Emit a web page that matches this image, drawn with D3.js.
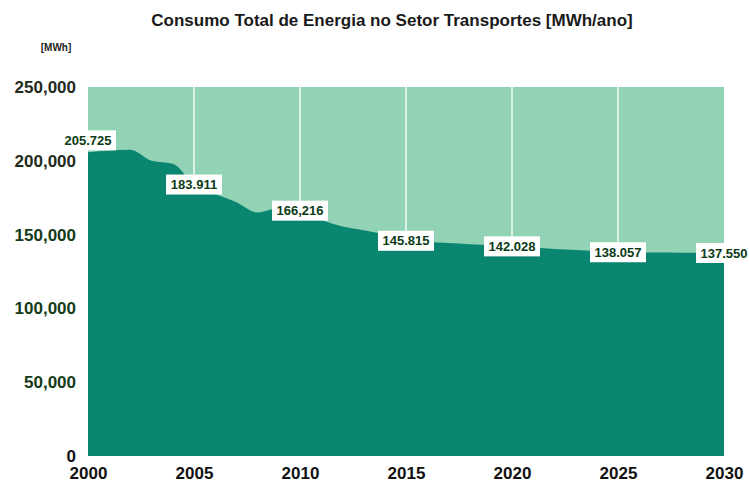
<!DOCTYPE html>
<html>
<head>
<meta charset="utf-8">
<script src="https://cdn.jsdelivr.net/npm/d3@7"></script>
<style>
  html, body { margin: 0; padding: 0; background: #fff; }
  svg { display: block; font-family: "Liberation Sans", Arial, sans-serif; }
</style>
</head>
<body>
<div id="chart"></div>
<script>
// Values
const years = [2000, 2001, 2002, 2003, 2004, 2005, 2006, 2007, 2008, 2009,
  2010, 2011, 2012, 2013, 2014, 2015, 2016, 2017, 2018, 2019,
  2020, 2021, 2022, 2023, 2024, 2025, 2026, 2027, 2028, 2029, 2030];
const consumo = [205725, 207000, 207500, 200000, 198000, 183911, 177500, 172000, 165000, 168000,
  166216, 160000, 155500, 153000, 150000, 145815, 145000, 144300, 143500, 142800,
  142028, 141200, 140300, 139500, 138700, 138057, 137900, 137800, 137700, 137600, 137550];
const labelYears = [2000, 2005, 2010, 2015, 2020, 2025, 2030];
const labelTexts = ['205.725', '183.911', '166,216', '145.815', '142.028', '138.057', '137.550'];
const yTicks = [0, 50000, 100000, 150000, 200000, 250000];
const xTicks = [2000, 2005, 2010, 2015, 2020, 2025, 2030];
const gridYears = [2005, 2010, 2015, 2020, 2025];

const width = 749, height = 492;
const svg = d3.select('#chart').append('svg')
  .attr('width', width)
  .attr('height', height);

const x = d3.scaleLinear().domain([2000, 2030]).range([88, 724]);
const y = d3.scaleLinear().domain([0, 250000]).range([456, 87]);

const data = years.map((yr, i) => ({ year: yr, value: consumo[i] }));

// Title
svg.append('text')
  .attr('x', 392)
  .attr('y', 26)
  .attr('text-anchor', 'middle')
  .attr('font-size', 17)
  .attr('font-weight', 'bold')
  .attr('fill', '#1a1a1a')
  .text('Consumo Total de Energia no Setor Transportes [MWh/ano]');

svg.append('text')
  .attr('x', 56)
  .attr('y', 51)
  .attr('text-anchor', 'middle')
  .attr('font-size', 10)
  .attr('font-weight', 'bold')
  .attr('fill', '#222')
  .text('[MWh]');

// Light background area
svg.append('rect')
  .attr('x', x(2000))
  .attr('y', y(250000))
  .attr('width', x(2030) - x(2000))
  .attr('height', y(0) - y(250000))
  .attr('fill', '#93d3b5');

// White vertical gridlines
svg.append('g')
  .selectAll('line')
  .data(gridYears)
  .join('line')
  .attr('x1', d => x(d))
  .attr('x2', d => x(d))
  .attr('y1', y(250000))
  .attr('y2', y(0))
  .attr('stroke', '#f2fbf6')
  .attr('stroke-width', 1.5);

// Dark area
const area = d3.area()
  .x(d => x(d.year))
  .y0(y(0))
  .y1(d => y(d.value))
  .curve(d3.curveMonotoneX);

svg.append('path')
  .datum(data)
  .attr('d', area)
  .attr('fill', '#0a8670');

// Y axis labels
const yAxis = svg.append('g')
  .attr('transform', 'translate(76,0)')
  .call(d3.axisLeft(y).tickValues(yTicks).tickSize(0).tickPadding(0)
    .tickFormat(d3.format(',')));
yAxis.select('.domain').remove();
yAxis.selectAll('text')
  .attr('font-size', 17)
  .attr('font-weight', 'bold')
  .attr('font-family', '"Liberation Sans", Arial, sans-serif')
  .attr('fill', d => d >= 200000 ? '#1f2a20' : d === 0 ? '#111' : '#143a18');

// X axis labels
const xAxis = svg.append('g')
  .attr('transform', `translate(0,${y(0) + 11})`)
  .call(d3.axisBottom(x).tickValues(xTicks).tickSize(0).tickPadding(0)
    .tickFormat(d3.format('d')));
xAxis.select('.domain').remove();
xAxis.selectAll('text')
  .attr('font-size', 17)
  .attr('font-weight', 'bold')
  .attr('font-family', '"Liberation Sans", Arial, sans-serif')
  .attr('fill', '#111');

// Data labels
const labels = svg.append('g')
  .selectAll('g')
  .data(labelYears.map((yr, i) => ({ year: yr, text: labelTexts[i], value: consumo[years.indexOf(yr)] })))
  .join('g')
  .attr('transform', (d, i) => `translate(${x(d.year)},${y(d.value) - (i === 0 ? 12 : 0)})`);

labels.append('rect')
  .attr('x', -28)
  .attr('y', -10)
  .attr('width', 56)
  .attr('height', 20)
  .attr('fill', '#fff');

labels.append('text')
  .attr('text-anchor', 'middle')
  .attr('dy', '0.35em')
  .attr('font-size', 13)
  .attr('font-weight', 'bold')
  .attr('fill', '#0c3a16')
  .text(d => d.text);
</script>
</body>
</html>
